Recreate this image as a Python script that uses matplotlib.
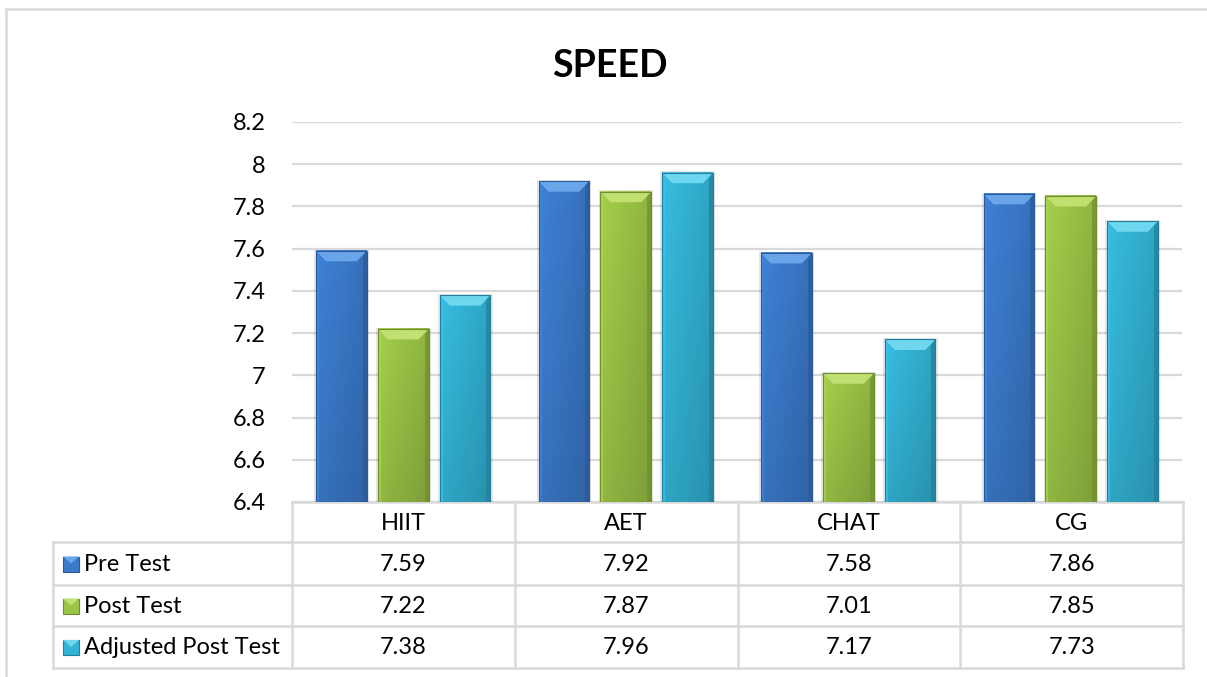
import numpy as np
import matplotlib
matplotlib.use("Agg")
import matplotlib.pyplot as plt
from matplotlib.patches import Polygon, Rectangle
from matplotlib.colors import to_rgb

plt.rcParams["font.family"] = ["Lato", "DejaVu Sans"]

groups = ["HIIT", "AET", "CHAT", "CG"]
series = ["Pre Test", "Post Test", "Adjusted Post Test"]
pre_test = [7.59, 7.92, 7.58, 7.86]
post_test = [7.22, 7.87, 7.01, 7.85]
adjusted_post = [7.38, 7.96, 7.17, 7.73]
values = [pre_test, post_test, adjusted_post]
yticks = [6.4, 6.6, 6.8, 7.0, 7.2, 7.4, 7.6, 7.8, 8.0, 8.2]
ytick_labels = ["6.4", "6.6", "6.8", "7", "7.2", "7.4", "7.6", "7.8", "8", "8.2"]

colors = ["#3b7acb", "#9cc447", "#33b3d5"]
tops = ["#6aa5ea", "#c2df72", "#6fd6f0"]
darks = ["#2c5a97", "#6f8f2c", "#227f9b"]

W, H = 1207, 677
fig = plt.figure(figsize=(W / 100, H / 100), dpi=100)
GRID = "#d9d9d9"
FS = 17

# page-level overlay in pixel units: frame, title, table
pg = fig.add_axes([0, 0, 1, 1], zorder=0)
pg.set_xlim(0, W); pg.set_ylim(H, 0); pg.axis("off")
pg.plot([6, 6, W + 10], [H + 10, 9, 9], color=GRID, lw=1.8, solid_capstyle="butt")
pg.text(610, 66, "SPEED", ha="center", va="center", fontsize=27, fontweight="bold")

x0, x1, ytop, ybot = 292, 1182, 122, 502
ax = fig.add_axes([x0 / W, 1 - ybot / H, (x1 - x0) / W, (ybot - ytop) / H], zorder=2)
ax.patch.set_alpha(0)
n = len(groups)
ax.set_xlim(-0.5, n - 0.5)
ax.set_ylim(6.4, 8.2)
ax.set_yticks(yticks)
ax.set_yticklabels(ytick_labels, fontsize=FS)
ax.tick_params(axis="y", length=0, pad=19)
ax.set_xticks([])
for s in ax.spines.values():
    s.set_visible(False)
for t in yticks:
    ax.axhline(t, color=GRID, lw=1.6, zorder=0)

bw, gap = 0.228, 0.05
bx = 0.045   # bevel width (category units)
by = 0.05    # bevel height (value units)


def shade(c, f):
    c = np.array(to_rgb(c))
    return np.clip(c * f, 0, 1)


def draw_bar(xc, v, k):
    left, right, base = xc - bw / 2, xc + bw / 2, 6.4
    # soft shadow
    ax.add_patch(Rectangle((left - 0.008, base), bw + 0.018, v - base + 0.006,
                           color="#000000", alpha=0.10, lw=0, zorder=2))
    # body gradient: lighter on the left/top, darker at the right/bottom
    hx = np.linspace(1.06, 0.92, 40)
    vy = np.linspace(1.0, 0.88, 60)[:, None]
    img = shade(colors[k], 1.0)[None, None, :] * (hx[None, :, None] * vy[:, :, None])
    ax.imshow(np.clip(img, 0, 1), extent=(left, right, base, v), aspect="auto",
              origin="upper", zorder=3, interpolation="bilinear")
    # bevels
    ax.add_patch(Polygon([(left, v), (right, v), (right - bx, v - by), (left + bx, v - by)],
                         color=tops[k], lw=0, zorder=4))
    ax.add_patch(Polygon([(right, v), (right, base), (right - bx * 0.4, base),
                          (right - bx * 0.4, v - by * 0.5)], color=darks[k], lw=0, zorder=4,
                         alpha=0.7))
    ax.add_patch(Polygon([(left, v), (left, base), (left + bx * 0.3, base),
                          (left + bx * 0.3, v - by * 0.5)], color=shade(colors[k], 1.1), lw=0,
                         zorder=4, alpha=0.7))
    ax.add_patch(Rectangle((left, base), bw, v - base, fill=False, ec=darks[k],
                           lw=0.8, zorder=5))


for k, vals in enumerate(values):
    off = (k - 1) * (bw + gap)
    for i, v in enumerate(vals):
        draw_bar(i + off, v, k)

# data table below the plot
cols = np.linspace(292, 1183, n + 1)
rows = [502, 542, 585, 626, 668]
lab_l = 53
lw_t = 1.8
pg.plot([cols[0], cols[-1]], [rows[0], rows[0]], color=GRID, lw=lw_t)
for r in rows[1:]:
    pg.plot([lab_l, cols[-1]], [r, r], color=GRID, lw=lw_t)
pg.plot([lab_l, lab_l], [rows[1], rows[-1]], color=GRID, lw=lw_t)
for c in cols:
    pg.plot([c, c], [rows[0], rows[-1]], color=GRID, lw=lw_t)

for i, g in enumerate(groups):
    cx = (cols[i] + cols[i + 1]) / 2
    pg.text(cx, (rows[0] + rows[1]) / 2 + 1, g, ha="center", va="center", fontsize=FS)
    for k in range(len(series)):
        cy = (rows[k + 1] + rows[k + 2]) / 2 + 1
        pg.text(cx, cy, f"{values[k][i]:.2f}", ha="center", va="center", fontsize=FS)

for k, name in enumerate(series):
    cy = (rows[k + 1] + rows[k + 2]) / 2
    pg.add_patch(Rectangle((63, cy - 7), 16, 15, fc=colors[k], ec=darks[k], lw=0.8))
    pg.add_patch(Polygon([(63, cy - 7), (79, cy - 7), (71, cy)], fc=tops[k], lw=0))
    pg.text(84, cy + 1, name, ha="left", va="center", fontsize=FS)

fig.savefig("out.png", dpi=100)
